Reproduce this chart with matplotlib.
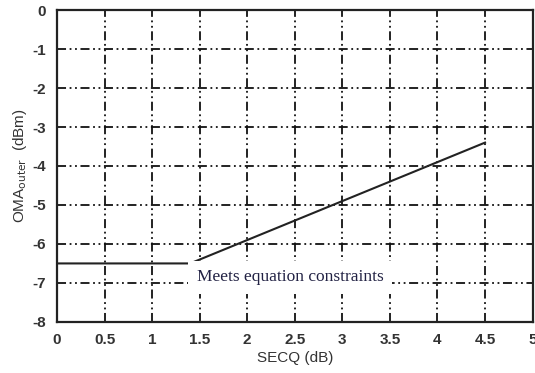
import numpy as np
import matplotlib.pyplot as plt

plt.rcParams['axes.unicode_minus'] = False

# curve: flat floor then 1 dB/dB rise
secq = [0, 1.4, 4.5]
oma = [-6.5, -6.5, -3.4]

xticks = [0, 0.5, 1, 1.5, 2, 2.5, 3, 3.5, 4, 4.5, 5]
xticklabels = ['0', '0.5', '1', '1.5', '2', '2.5', '3', '3.5', '4', '4.5', '5']
yticks = [0, -1, -2, -3, -4, -5, -6, -7, -8]

fig = plt.figure(figsize=(5.35, 3.73), dpi=100)
ax = fig.add_axes([0.1065, 0.137, 0.889, 0.836])

ax.plot(secq, oma, color='#222222', lw=1.5, zorder=3)

ax.set_xlim(0, 5)
ax.set_ylim(-8, 0)
ax.set_xticks(xticks)
ax.set_xticklabels(xticklabels)
ax.set_yticks(yticks)

ax.grid(True, color='#111111', lw=1.3, linestyle=(0, (5, 2, 1, 2, 1, 2)))
ax.tick_params(direction='in', length=0, labelsize=11, colors='#333333', pad=8)
for lab in ax.get_xticklabels() + ax.get_yticklabels():
    lab.set_family('Liberation Sans')
    lab.set_fontweight('bold')
for s in ax.spines.values():
    s.set_linewidth(1.6)
    s.set_color('#222222')

ax.set_xlabel('SECQ (dB)', family='Liberation Sans', fontsize=11, labelpad=3, color='#333333')
ax.set_ylabel(r'OMA$_{\mathrm{outer}}$  (dBm)', family='Liberation Sans', fontsize=11,
              labelpad=2, color='#333333')

ax.text(1.47, -6.86, 'Meets equation constraints', family='Liberation Serif', fontsize=12.5,
        color='#222244', va='center', ha='left', zorder=4,
        bbox=dict(facecolor='white', edgecolor='none', pad=6))

fig.savefig('out.png', dpi=100)
